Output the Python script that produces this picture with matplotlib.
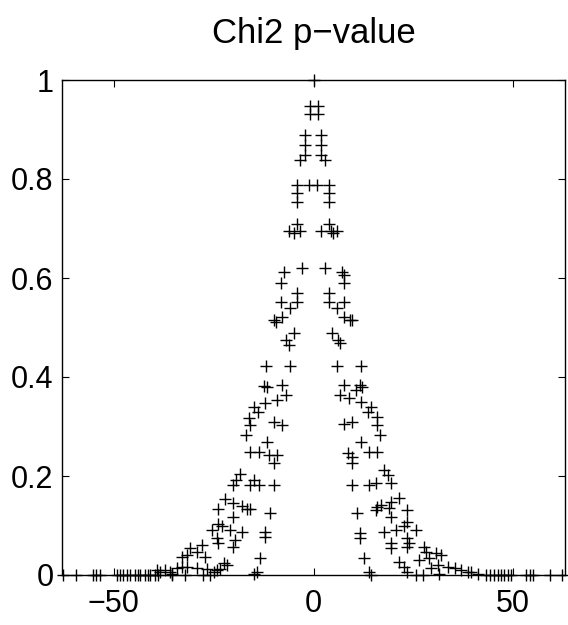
import matplotlib
matplotlib.use("Agg")
import matplotlib.pyplot as plt

# x positions and p-values
x_vals = [
    0, -1, -1, 1, 1,
    -2.2, -2.2, -2.2, -3.3, 1.9, 1.9, 1.9, 2.8,
    -4.1, -4.1, -4.1, -1.2, 0.9, 3.8, 3.8, 3.8,
    -6.2, -4.9, -4.1, -3.3, 1.8, 3.8, 4.3, 4.9, 5.9,
    -7.5, -3.0, -8.1, -8.1, -4.1, -4.1, -6.0, -8.0, -10.0, -9.3,
    -4.9, -6.8, -6.2, -11.9, -6.0, -12.5, -11.6, -8.0, -7.0, -9.1,
    -12.1, -15.0, -14.0, -16.1, -16.0, -10.0, -8.0,
    2.8, 7.2, 7.6, 7.6, 3.8, 3.8, 5.8, 7.6, 7.6, 9.1, 9.7,
    4.7, 6.2, 6.6, 5.8, 11.8, 7.6, 11.6, 12.2, 10.6, 6.6, 8.9,
    11.8, 14.3, 13.7, 15.8, 15.8, 7.6, 9.7,
    -16.8, -11.6, -16.0, -13.7, -11.2, -9.1, -10.0,
    -18.3, -19.3, -20.2, -15.8, -13.7, -15.0, -10.0,
    -22.1, -20.2, -23.8, -17.9, -16.7, -15.8, -20.2, -11.0,
    -23.8, -22.9, -25.5, -20.9, -17.9, -12.1, -12.1,
    -24.2, -23.8, -19.6, -20.2, -28.0, -30.9, -29.2,
    -31.7, -33.0, -27.1, -22.5, -21.7, -13.3, -14.1, -14.8,
    -34.3, -33.0, -31.7, -29.2,
    -39.3, -38.4, -37.2, -35.9, -35.5,
    -26.7, -25.0, -24.2, -23.4,
    -62.7, -59.4, -55.2, -54.4, -53.5, -49.3, -48.5, -47.6, -46.8, -46.0,
    -44.7, -43.9, -43.5, -42.2, -41.4, -40.9, -39.7, -38.9, -35.5, -32.2,
    -27.6, -25.9,
    16.7, 11.8, 8.7, 9.7, 9.7, 13.9, 15.8,
    17.7, 18.7, 19.3, 9.7, 13.9, 15.6,
    21.4, 16.8, 16.0, 15.6, 19.3, 18.9, 19.3, 23.5, 10.8,
    23.5, 25.6, 17.7, 20.6, 22.7, 11.6, 11.6,
    23.5, 23.9, 23.5, 19.3, 19.3,
    27.6, 28.1, 26.5, 30.7, 31.9, 29.0, 12.6,
    21.4, 22.7, 31.1, 33.6, 35.3, 36.9, 29.3, 31.4,
    13.9, 14.3, 23.5, 25.6, 27.3, 38.6, 39.4, 41.1,
    43.2, 44.1, 45.3, 46.2, 47.0, 47.8, 48.6, 49.5, 53.3, 54.1, 54.9,
    59.1, 62.1,
]
p_vals = [
    1.0, 0.948, 0.931, 0.948, 0.931,
    0.889, 0.869, 0.848, 0.838, 0.889, 0.869, 0.848, 0.838,
    0.788, 0.771, 0.754, 0.788, 0.788, 0.788, 0.771, 0.754,
    0.694, 0.690, 0.710, 0.694, 0.694, 0.710, 0.694, 0.690, 0.694,
    0.613, 0.620, 0.589, 0.552, 0.569, 0.552, 0.539, 0.522, 0.515, 0.512,
    0.488, 0.475, 0.465, 0.423, 0.423, 0.382, 0.380, 0.384, 0.364, 0.354,
    0.347, 0.340, 0.330, 0.317, 0.303, 0.310, 0.304,
    0.620, 0.613, 0.606, 0.589, 0.569, 0.552, 0.539, 0.552, 0.522, 0.515, 0.515,
    0.488, 0.475, 0.468, 0.423, 0.423, 0.384, 0.384, 0.380, 0.374, 0.364, 0.357,
    0.350, 0.340, 0.330, 0.320, 0.303, 0.306, 0.310,
    0.283, 0.269, 0.248, 0.248, 0.242, 0.242, 0.226,
    0.205, 0.192, 0.182, 0.182, 0.182, 0.192, 0.182,
    0.153, 0.145, 0.133, 0.139, 0.133, 0.133, 0.118, 0.125,
    0.104, 0.098, 0.091, 0.091, 0.087, 0.087, 0.077,
    0.074, 0.064, 0.071, 0.057, 0.061, 0.054, 0.047,
    0.040, 0.037, 0.037, 0.024, 0.020, 0.034, 0.007, 0.003,
    0.014, 0.017, 0.017, 0.014,
    0.010, 0.007, 0.010, 0.007, 0.003,
    0.013, 0.007, 0.010, 0.013,
    0, 0, 0, 0, 0, 0, 0, 0, 0, 0,
    0, 0, 0, 0, 0, 0, 0, 0, 0, 0,
    0, 0,
    0.283, 0.269, 0.246, 0.239, 0.226, 0.248, 0.248,
    0.212, 0.202, 0.185, 0.182, 0.182, 0.185,
    0.155, 0.141, 0.137, 0.131, 0.148, 0.135, 0.118, 0.131, 0.125,
    0.108, 0.091, 0.087, 0.091, 0.098, 0.084, 0.074,
    0.074, 0.064, 0.057, 0.064, 0.054,
    0.057, 0.047, 0.030, 0.044, 0.040, 0.034, 0.034,
    0.027, 0.017, 0.020, 0.017, 0.014, 0.010, 0.014, 0.003,
    0.007, 0.0, 0.007, 0.0, 0.0, 0.007, 0.007, 0.003,
    0, 0, 0, 0, 0, 0, 0, 0, 0, 0, 0,
    0, 0,
]

x_ticks = [-50, 0, 50]
x_tick_labels = ["\u221250", "0", "50"]
y_ticks = [0, 0.2, 0.4, 0.6, 0.8, 1]
y_tick_labels = ["0", "0.2", "0.4", "0.6", "0.8", "1"]

plt.rcParams['font.family'] = ['Liberation Sans', 'DejaVu Sans']

fig = plt.figure(figsize=(5.68, 6.25), dpi=100)
ax = fig.add_axes([0.109, 0.08, 0.886, 0.792])
ax.plot(x_vals, p_vals, linestyle='none', marker='+', color='black',
        markersize=9, markeredgewidth=1.0, clip_on=False)
ax.set_xlim(-63, 63)
ax.set_ylim(0, 1)
ax.set_xticks(x_ticks)
ax.set_xticklabels(x_tick_labels)
ax.set_yticks(y_ticks)
ax.set_yticklabels(y_tick_labels)
ax.tick_params(direction='in', length=5, width=0.8, labelsize=22,
               top=True, right=True)
ax.tick_params(axis='x', pad=10)
ax.tick_params(axis='y', pad=6)
for s in ax.spines.values():
    s.set_linewidth(1.0)
ax.set_title("Chi2 p\u2212value", fontsize=25, pad=27)
fig.savefig("out.png", dpi=100, facecolor='white')
